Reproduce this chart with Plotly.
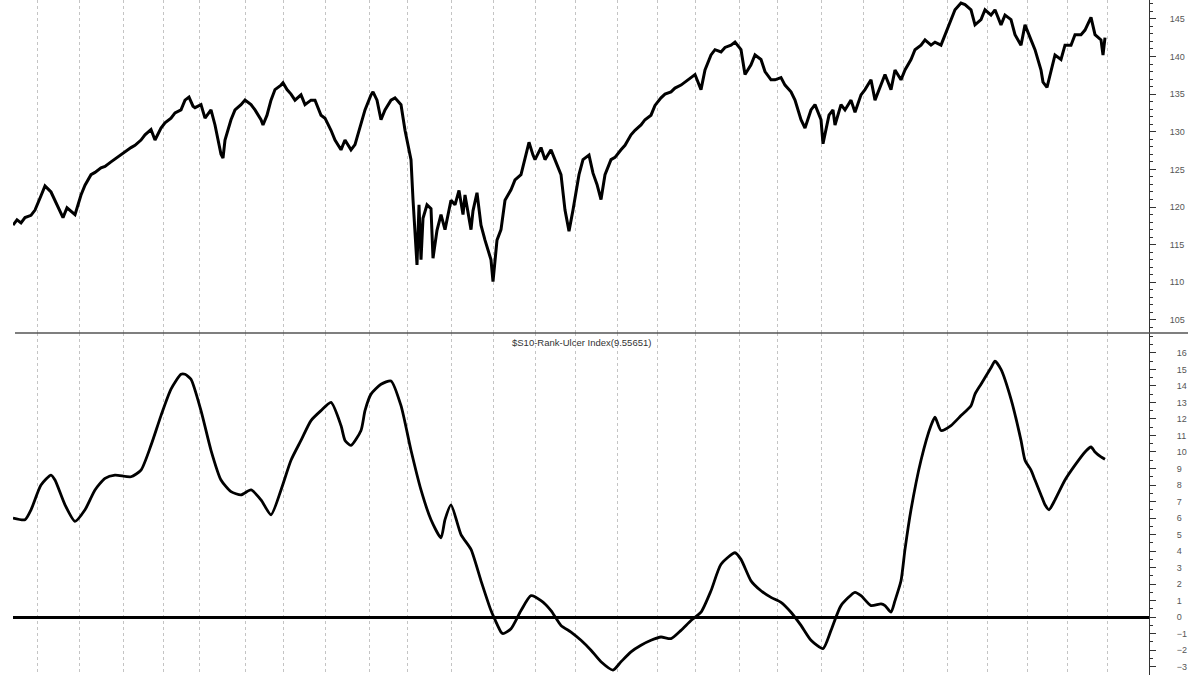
import plotly.graph_objects as go

# ---- data (bar index, value) ----
price_bar = [0, 2, 4, 6, 9, 11, 14, 16, 19, 21, 23, 25, 27, 29, 31, 34, 36, 39, 41, 44, 46, 49, 51, 54, 56, 59, 61, 64, 66, 69,
             71, 74, 76, 79, 81, 84, 86, 88, 90, 91, 94, 96, 99, 101, 104, 105, 106, 109, 111, 114, 116, 119, 121, 124, 125, 127, 129, 131, 134, 135,
             137, 139, 141, 144, 146, 149, 151, 154, 156, 159, 161, 164, 166, 169, 171, 174, 176, 179, 180, 182, 184, 186, 189, 191, 194, 196, 199, 200, 202, 203,
             204, 205, 207, 209, 210, 212, 214, 216, 219, 221, 223, 225, 226, 229, 230, 232, 234, 236, 239, 240, 242, 244, 246, 249, 251, 254, 256, 258, 260, 261,
             264, 266, 269, 271, 274, 276, 278, 280, 283, 285, 288, 290, 292, 294, 296, 299, 301, 304, 306, 309, 311, 314, 316, 319, 321, 324, 326, 329, 331, 334,
             336, 339, 341, 344, 346, 349, 351, 354, 356, 359, 361, 364, 366, 369, 371, 374, 376, 379, 381, 384, 386, 389, 391, 394, 396, 399, 401, 404, 405, 408,
             410, 411, 414, 416, 419, 421, 424, 426, 429, 431, 434, 436, 439, 441, 444, 446, 449, 451, 454, 456, 459, 461, 464, 466, 469, 471, 474, 476, 479, 481,
             484, 486, 489, 491, 494, 496, 499, 501, 504, 506, 509, 511, 514, 515, 517, 519, 521, 524, 526, 529, 531, 534, 536, 539, 541, 544, 545, 546]
price_val = [117.6, 118.3, 117.9, 118.6, 118.9, 119.6, 121.5, 122.8, 122.0, 120.9, 119.6, 118.6, 119.9, 119.4, 119.0, 121.6, 122.9, 124.3, 124.6, 125.2,
             125.4, 126.0, 126.4, 126.9, 127.3, 127.9, 128.2, 128.9, 129.6, 130.3, 128.9, 130.5, 131.2, 131.8, 132.5, 132.9, 134.2, 134.6, 133.4, 133.2,
             133.6, 131.8, 132.9, 130.9, 127.0, 126.5, 128.9, 131.6, 132.9, 133.6, 134.2, 133.6, 132.9, 131.6, 130.9, 132.2, 134.2, 135.6, 136.2, 136.5,
             135.6, 135.0, 134.2, 134.9, 133.6, 134.2, 134.2, 132.2, 131.8, 130.2, 128.9, 127.6, 128.9, 127.6, 128.3, 130.9, 132.9, 134.9, 135.3, 134.2,
             131.6, 132.9, 134.2, 134.5, 133.6, 130.2, 126.3, 121.0, 112.3, 120.3, 113.0, 118.5, 120.3, 119.8, 113.2, 116.9, 119.0, 117.0, 120.9, 120.3,
             122.2, 119.0, 121.6, 117.0, 119.5, 121.9, 117.6, 115.6, 113.0, 110.1, 115.6, 117.0, 120.9, 122.3, 123.6, 124.3, 126.3, 128.6, 126.9, 126.3,
             127.9, 126.3, 127.6, 126.3, 124.3, 119.6, 116.8, 119.6, 124.3, 126.3, 126.9, 124.5, 123.0, 121.0, 124.3, 126.3, 126.6, 127.6, 128.2, 129.6,
             130.2, 130.9, 131.6, 132.2, 133.5, 134.5, 135.0, 135.3, 135.8, 136.2, 136.6, 137.2, 137.6, 135.6, 138.2, 140.2, 140.9, 140.6, 141.2, 141.5,
             141.9, 140.9, 137.6, 138.9, 140.2, 139.6, 138.0, 136.9, 136.9, 137.2, 136.2, 135.3, 134.2, 131.6, 130.5, 132.9, 133.6, 131.6, 128.4, 132.2,
             132.9, 130.9, 133.6, 132.9, 134.2, 132.6, 134.9, 135.6, 136.9, 134.2, 136.2, 137.6, 135.6, 138.2, 136.9, 138.2, 139.6, 140.9, 141.5, 142.2,
             141.5, 141.9, 141.5, 142.9, 144.9, 146.2, 147.1, 146.9, 146.2, 144.2, 144.9, 146.2, 145.5, 146.2, 144.2, 145.5, 144.9, 142.9, 141.5, 144.2,
             142.2, 140.9, 138.2, 136.6, 135.9, 138.2, 140.2, 139.6, 141.5, 141.5, 142.9, 142.9, 143.5, 145.2, 142.9, 142.2, 140.2, 142.5]

ulcer_bar = [0, 6, 9, 14, 19, 21, 26, 31, 36, 41, 46, 51, 59, 64, 69, 74, 79, 84, 86, 89, 94, 99, 104, 109, 114, 119, 124, 129, 134, 139,
             144, 149, 154, 159, 164, 166, 169, 174, 176, 179, 184, 189, 194, 199, 204, 209, 214, 216, 219, 224, 229, 234, 239, 244, 245, 249, 254, 259, 264, 269,
             274, 279, 284, 289, 294, 300, 304, 309, 314, 319, 324, 329, 334, 339, 344, 349, 354, 361, 364, 369, 374, 379, 384, 389, 394, 399, 405, 409, 414, 421,
             424, 429, 434, 436, 439, 441, 444, 446, 449, 454, 459, 461, 464, 469, 474, 479, 481, 484, 489, 491, 494, 499, 504, 506, 509, 511, 514, 516, 518, 521,
             526, 531, 536, 539, 541, 544, 546]
ulcer_val = [6.0, 5.9, 6.5, 8.0, 8.6, 8.3, 6.8, 5.8, 6.5, 7.7, 8.4, 8.6, 8.5, 8.9, 10.4, 12.2, 13.8, 14.7, 14.7, 14.4,
             12.5, 10.1, 8.3, 7.6, 7.4, 7.7, 7.1, 6.2, 7.7, 9.5, 10.7, 11.9, 12.5, 13.0, 11.6, 10.7, 10.4, 11.3, 12.5, 13.5,
             14.1, 14.3, 12.8, 10.1, 7.7, 5.9, 4.8, 5.9, 6.8, 5.0, 4.1, 2.2, 0.4, -0.9, -1.0, -0.7, 0.4, 1.3, 1.0, 0.4,
             -0.5, -0.9, -1.4, -2.0, -2.7, -3.2, -2.7, -2.1, -1.7, -1.4, -1.2, -1.3, -0.8, -0.2, 0.3, 1.6, 3.2, 3.9, 3.5, 2.2,
             1.6, 1.2, 0.9, 0.3, -0.5, -1.4, -1.9, -0.8, 0.7, 1.5, 1.3, 0.7, 0.8, 0.7, 0.3, 1.0, 2.2, 4.1, 6.5, 9.5,
             11.6, 12.1, 11.3, 11.6, 12.2, 12.8, 13.5, 14.1, 15.1, 15.5, 15.0, 13.2, 10.7, 9.5, 8.9, 8.3, 7.4, 6.8, 6.5, 7.1,
             8.3, 9.2, 10.0, 10.3, 10.0, 9.7, 9.55651]

month_bars = [12, 33, 55, 75, 93, 116, 135, 156, 178, 197, 219, 240, 261, 281, 302, 322, 341, 363, 382, 404, 425, 445, 467, 487, 507, 527, 547]

price_ticks = [105, 110, 115, 120, 125, 130, 135, 140, 145]
ulcer_ticks = list(range(-3, 17))
ulcer_tick_text = [("\u2212" + str(-t)) if t < 0 else str(t) for t in ulcer_ticks]

title_text = "$S10-Rank-Ulcer Index(9.55651)"

W, H = 1200, 675
L, R = 13, 51
split = 1 - 333 / H

fig = go.Figure()
fig.add_trace(go.Scatter(x=price_bar, y=price_val, mode="lines", xaxis="x", yaxis="y",
                         line=dict(color="black", width=3), hoverinfo="skip", showlegend=False))
fig.add_trace(go.Scatter(x=ulcer_bar, y=ulcer_val, mode="lines", xaxis="x2", yaxis="y2",
                         line=dict(color="black", width=2.8, shape="spline", smoothing=0.6),
                         hoverinfo="skip", showlegend=False))

tickfont = dict(family="Liberation Sans, Arial, sans-serif", size=9, color="#555")
xcommon = dict(range=[0, 568], tickmode="array", tickvals=month_bars, showticklabels=False,
               ticks="", showgrid=True, gridcolor="#c4c4c4", gridwidth=1, griddash="3px,3px",
               zeroline=False, showline=False)

fig.update_layout(
    width=W, height=H,
    margin=dict(l=L, r=R, t=0, b=0),
    paper_bgcolor="white", plot_bgcolor="white",
    hovermode=False,
    xaxis=dict(anchor="y", domain=[0, 1], **xcommon),
    xaxis2=dict(anchor="y2", domain=[0, 1], matches="x", **xcommon),
    yaxis=dict(domain=[split, 1], anchor="x", side="right", range=[103.27, 147.5],
               tickmode="array", tickvals=price_ticks, ticks="outside", ticklen=6, tickcolor="#333",
               tickwidth=1, ticklabelstandoff=12,
               minor=dict(dtick=1, ticks="outside", ticklen=3, tickcolor="#333", showgrid=False),
               showline=True, linecolor="#333", linewidth=1, showgrid=False, zeroline=False,
               tickfont=tickfont),
    yaxis2=dict(domain=[0, split], anchor="x2", side="right", range=[-3.5, 17.2],
                tickmode="array", tickvals=ulcer_ticks, ticktext=ulcer_tick_text,
                ticks="outside", ticklen=6, tickcolor="#333", tickwidth=1, ticklabelstandoff=19,
                minor=dict(dtick=0.5, ticks="outside", ticklen=3, tickcolor="#333", showgrid=False),
                showline=True, linecolor="#333", linewidth=1, showgrid=False,
                zeroline=True, zerolinecolor="black", zerolinewidth=3,
                tickfont=tickfont),
    shapes=[dict(type="line", xref="paper", yref="paper", x0=2 / 1136, x1=(1188 - L) / 1136,
                 y0=split, y1=split, line=dict(color="#555", width=1.5))],
    annotations=[dict(text=title_text, xref="paper", yref="paper", x=0.5, y=split - 2 / H,
                      xanchor="center", yanchor="top", showarrow=False,
                      font=dict(family="Liberation Sans, Arial, sans-serif", size=9.5, color="#333"))],
)

fig.write_html("out.html", config={"displayModeBar": False, "staticPlot": True},
               post_script="document.body.style.margin='0';document.body.style.overflow='hidden';")
